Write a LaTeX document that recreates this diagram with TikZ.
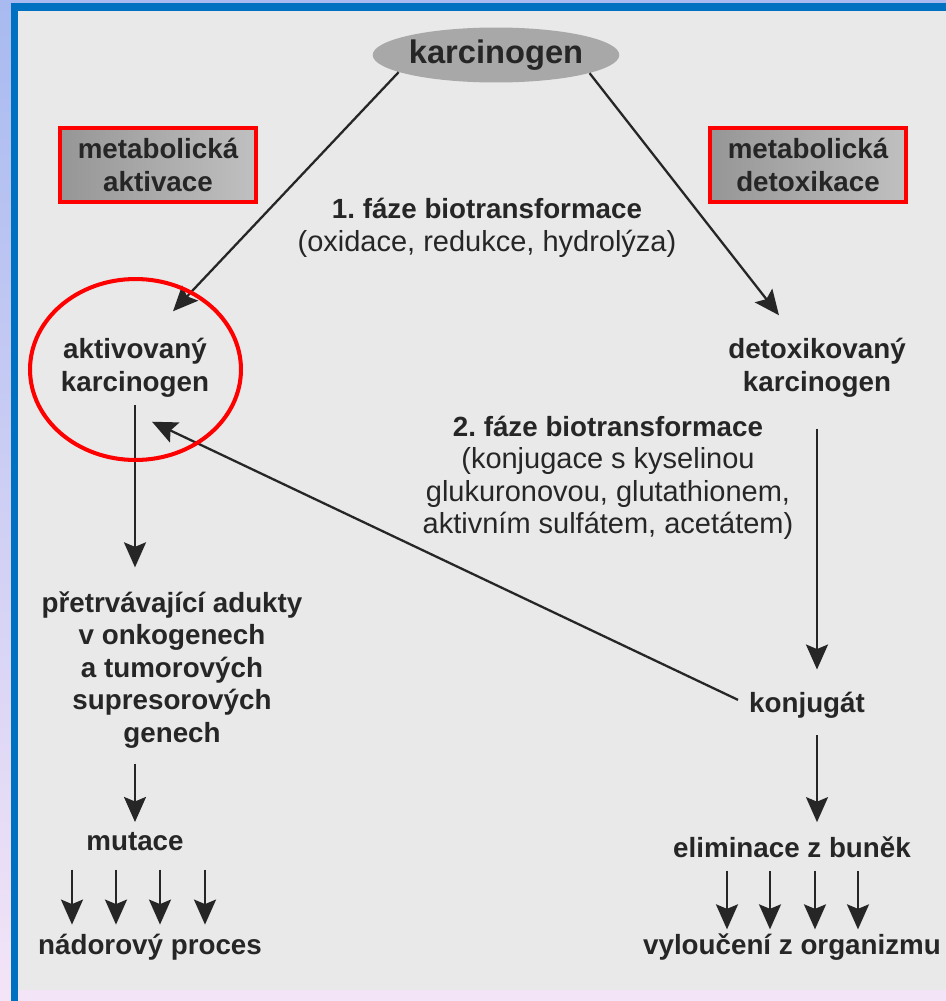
\documentclass[tikz,border=0pt]{standalone}
\usepackage{fontspec}
\setmainfont{Liberation Sans}
\usepackage{xcolor}
\usetikzlibrary{arrows.meta,shapes.geometric}
\definecolor{frameblue}{RGB}{0,112,192}
\definecolor{skyblue}{RGB}{168,186,240}
\definecolor{lavender}{RGB}{244,228,247}
\definecolor{paper}{RGB}{233,233,234}
\definecolor{ink}{RGB}{38,38,38}
\definecolor{markred}{RGB}{255,0,0}
\definecolor{boxdark}{RGB}{150,150,150}
\definecolor{boxlight}{RGB}{192,192,192}
\definecolor{blobgray}{RGB}{168,168,168}
\newcommand{\boldlbl}{\fontsize{15.8}{18.5}\selectfont\bfseries}
\newcommand{\plainlbl}{\fontsize{16.5}{18.5}\selectfont}
\newcommand{\titlelbl}{\fontsize{18.6}{20}\selectfont\bfseries}
\frenchspacing

\begin{document}
\begin{tikzpicture}[x=0.02cm, y=-0.02cm,
  every node/.style={align=center, text=ink, inner sep=0pt},
  term/.style={font=\boldlbl},
  remark/.style={font=\plainlbl},
  tagbox/.style={draw=markred, line width=2.3pt, left color=boxdark, right color=boxlight, minimum width=3.92cm, minimum height=1.48cm, font=\boldlbl},
  arr/.style={draw=ink, line width=1.3pt, -{Stealth[length=5mm,width=4.4mm,inset=0.9mm]}}]
\useasboundingbox (0,0) rectangle (946,1001);
% Background
\shade[top color=skyblue, bottom color=lavender] (0,0) rectangle (946,1001);
\fill[frameblue] (11,3) rectangle (946,11);
\fill[frameblue] (11,3) rectangle (18,1001);
\fill[paper] (18,11) rectangle (946,990);

% Nodes
\node[ellipse, fill=blobgray, minimum width=4.88cm, minimum height=1.1cm, font=\titlelbl] (karc) at (496,55) {karcinogen};
\node[tagbox] (actbox) at (158,165) {metabolická\\aktivace};
\node[tagbox] (detbox) at (808,165) {metabolická\\detoxikace};
\node[remark] (phaseone) at (487,228) {{\boldlbl 1. fáze biotransformace}\\(oxidace, redukce, hydrolýza)};
\node[term] (akt) at (135,368) {aktivovaný\\karcinogen};
\node[term] (det) at (817,368) {detoxikovaný\\karcinogen};
\node[remark] (phasetwo) at (608,478) {{\boldlbl 2. fáze biotransformace}\\(konjugace s kyselinou\\glukuronovou, glutathionem,\\aktivním sulfátem, acetátem)};
\node[term] (adukty) at (172,670) {přetrvávající adukty\\v onkogenech\\a tumorových\\supresorových\\genech};
\node[term] (kon) at (807,705) {konjugát};
\node[term] (mut) at (135,842) {mutace};
\node[term] (elim) at (792,847) {eliminace z buněk};
\node[term] (nad) at (150,947) {nádorový proces};
\node[term] (vyl) at (792,947) {vyloučení z organizmu};

% Arrows
\draw[arr] (karc.190) -- ([shift={(38,-27)}]akt.north);
\draw[arr] (karc.349) -- ([shift={(-38,-23)}]det.north);
\draw[arr, shorten <=0.15cm, shorten >=0.48cm] (akt.south) -- (akt.south |- adukty.north);
\draw[arr, shorten <=0.3cm, shorten >=0.21cm] (adukty.south -| mut.north) -- (mut.north);
\foreach \x in {72,116,160,205}
  \draw[arr, shorten <=0.36cm, shorten >=0.18cm] (\x,0 |- mut.south) -- (\x,0 |- nad.north);
\draw[arr, shorten <=0.62cm, shorten >=0.44cm] (det.south) -- (det.south |- kon.north);
\draw[arr, shorten <=0.34cm, shorten >=0.28cm] (det.south |- kon.south) -- (det.south |- elim.north);
\foreach \x in {727,770,815,858}
  \draw[arr, shorten <=0.26cm, shorten >=0.08cm] (\x,0 |- elim.south) -- (\x,0 |- vyl.north);
\draw[arr, shorten <=0.24cm] (kon.west) -- ([shift={(17,24)}]akt.south);

% Highlight
\node[draw=markred, line width=2.3pt, ellipse, minimum width=4.22cm, minimum height=3.62cm] (ring) at (135.5,369.5) {};
\end{tikzpicture}
\end{document}
